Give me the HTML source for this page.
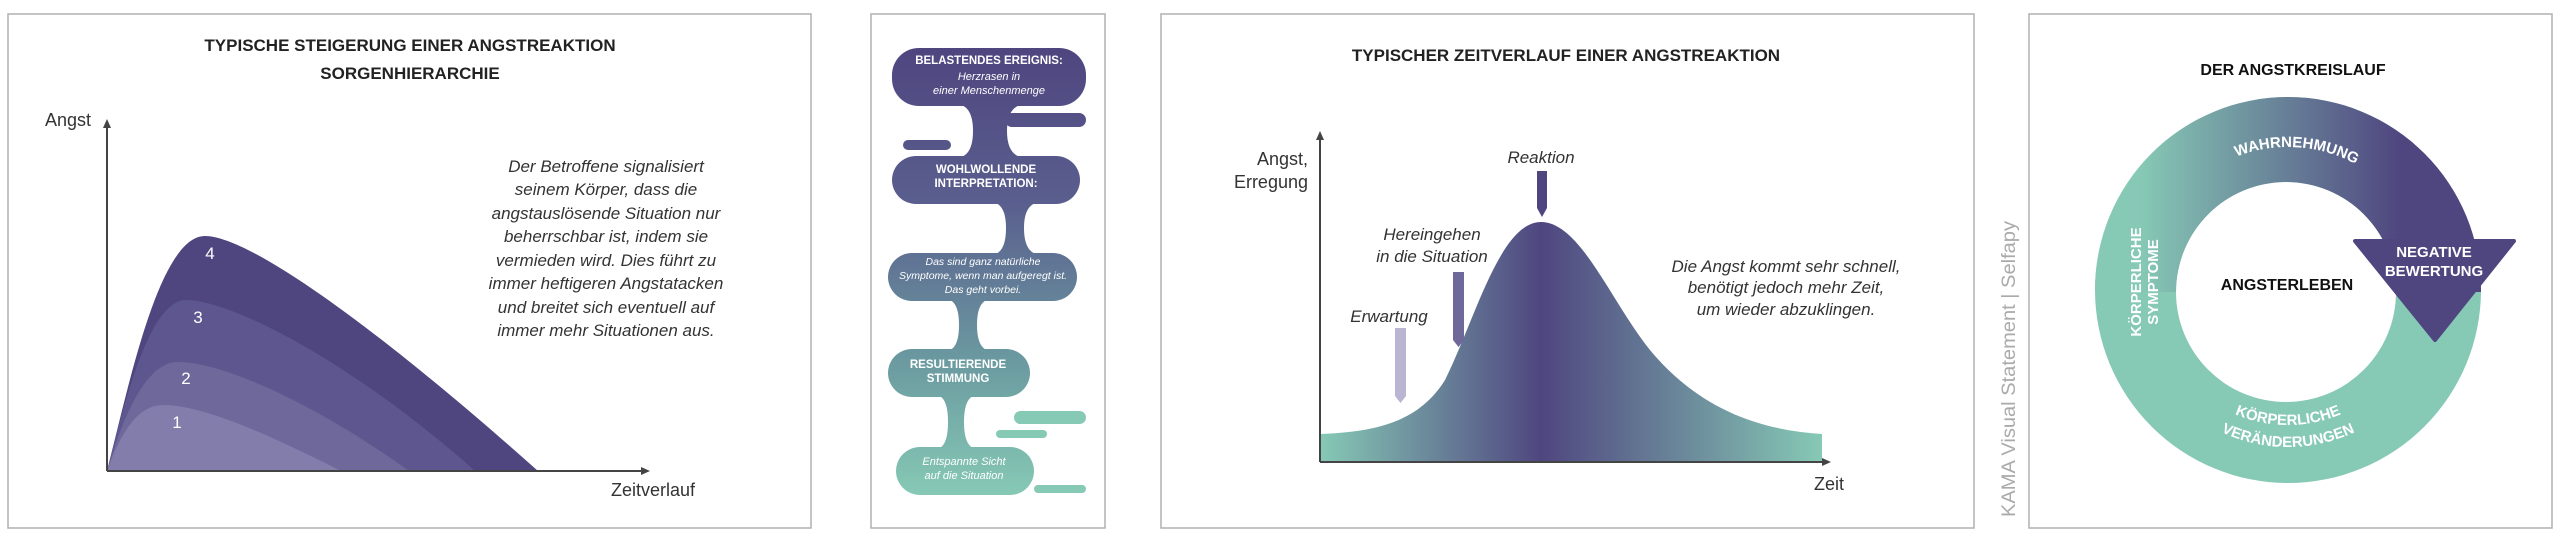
<!DOCTYPE html>
<html><head><meta charset="utf-8"><style>
html,body{margin:0;padding:0;background:#fff;}
svg{display:block;}
text{font-family:"Liberation Sans",sans-serif;}
</style></head><body>
<svg width="2560" height="538" viewBox="0 0 2560 538" xmlns="http://www.w3.org/2000/svg">
<defs>
<linearGradient id="g2" gradientUnits="userSpaceOnUse" x1="0" y1="50" x2="0" y2="495">
<stop offset="0" stop-color="#4f4680"/><stop offset="0.35" stop-color="#5a5f8e"/><stop offset="0.7" stop-color="#6b9aa0"/><stop offset="1" stop-color="#86c9b5"/></linearGradient>
<linearGradient id="g3" gradientUnits="userSpaceOnUse" x1="1320" y1="0" x2="1822" y2="0">
<stop offset="0" stop-color="#86c9b5"/><stop offset="0.44" stop-color="#4f4680"/><stop offset="1" stop-color="#86c9b5"/></linearGradient>
<linearGradient id="g4" gradientUnits="userSpaceOnUse" x1="2140" y1="0" x2="2400" y2="0">
<stop offset="0" stop-color="#86c9b5"/><stop offset="1" stop-color="#4f4680"/></linearGradient>
<clipPath id="topc"><rect x="2080" y="80" width="420" height="212"/></clipPath>
<path id="arcTop" d="M2145,290 A143,143 0 0 1 2431,290"/>
<path id="arcB1" d="M2153,290 A135,135 0 0 0 2423,290"/>
<path id="arcB2" d="M2131,290 A157,157 0 0 0 2445,290"/>
</defs>

<g fill="none" stroke="#b0b0b0" stroke-width="1.5">
<rect x="8" y="14" width="803" height="514"/>
<rect x="871" y="14" width="234" height="514"/>
<rect x="1161" y="14" width="813" height="514"/>
<rect x="2029" y="14" width="523" height="514"/>
</g>

<text x="410" y="51" font-size="17" font-weight="bold" text-anchor="middle" fill="#222">TYPISCHE STEIGERUNG EINER ANGSTREAKTION</text>
<text x="410" y="79" font-size="17" font-weight="bold" text-anchor="middle" fill="#222">SORGENHIERARCHIE</text>
<path d="M107,471 C130,380 160,236 205,236 C250,236 380,330 538,471 Z" fill="#4f4680"/>
<path d="M107,471 C125,400 150,300 186,300 C230,300 350,360 475,471 Z" fill="#5e578f"/>
<path d="M107,471 C122,420 145,362 178,362 C220,362 310,400 409,471 Z" fill="#6f689b"/>
<path d="M107,471 C118,440 135,405 163,405 C200,405 260,430 341,471 Z" fill="#837dab"/>
<g font-size="17" fill="#fff" text-anchor="middle">
<text x="210" y="259">4</text><text x="198" y="323">3</text><text x="186" y="384">2</text><text x="177" y="428">1</text></g>
<line x1="107" y1="471" x2="107" y2="126" stroke="#444" stroke-width="2"/>
<path d="M103,128 L107,119 L111,128 Z" fill="#444"/>
<line x1="107" y1="471" x2="643" y2="471" stroke="#444" stroke-width="2"/>
<path d="M641,467 L650,471 L641,475 Z" fill="#444"/>
<text x="45" y="126" font-size="18" fill="#333">Angst</text>
<text x="611" y="496" font-size="18" fill="#333">Zeitverlauf</text>
<g font-size="17" font-style="italic" fill="#333" text-anchor="middle">
<text x="606" y="172">Der Betroffene signalisiert</text>
<text x="606" y="195">seinem Körper, dass die</text>
<text x="606" y="219">angstauslösende Situation nur</text>
<text x="606" y="242">beherrschbar ist, indem sie</text>
<text x="606" y="266">vermieden wird. Dies führt zu</text>
<text x="606" y="289">immer heftigeren Angstatacken</text>
<text x="606" y="313">und breitet sich eventuell auf</text>
<text x="606" y="336">immer mehr Situationen aus.</text>
</g>

<g fill="url(#g2)">
<rect x="892" y="48" width="194" height="58" rx="27"/>
<rect x="1005" y="113" width="81" height="14" rx="7"/>
<rect x="903" y="140" width="48" height="10" rx="5"/>
<path d="M955,104 Q973,104 973,131 Q973,158 955,158 L1027,158 Q1007,158 1007,131 Q1007,104 1027,104 Z"/>
<rect x="892" y="156" width="188" height="48" rx="24"/>
<path d="M990,202 Q1006,202 1006,228 Q1006,255 990,255 L1042,255 Q1024,255 1024,228 Q1024,202 1042,202 Z"/>
<rect x="888" y="253" width="189" height="48" rx="24"/>
<path d="M945,299 Q959,299 959,325 Q959,351 945,351 L992,351 Q977,351 977,325 Q977,299 992,299 Z"/>
<rect x="888" y="349" width="142" height="48" rx="24"/>
<path d="M935,395 Q948,395 948,422 Q948,449 935,449 L978,449 Q964,449 964,422 Q964,395 978,395 Z"/>
<rect x="896" y="447" width="138" height="48" rx="24"/>
</g>
<g fill="#86c9b5">
<rect x="1014" y="411" width="72" height="13" rx="6.5"/>
<rect x="996" y="430" width="51" height="8" rx="4"/>
<rect x="1034" y="485" width="52" height="8" rx="4"/>
</g>
<g fill="#fff" text-anchor="middle">
<text x="989" y="64" font-size="11.5" font-weight="bold">BELASTENDES EREIGNIS:</text>
<text x="989" y="80" font-size="11" font-style="italic">Herzrasen in</text>
<text x="989" y="94" font-size="11" font-style="italic">einer Menschenmenge</text>
<text x="986" y="173" font-size="11.5" font-weight="bold">WOHLWOLLENDE</text>
<text x="986" y="187" font-size="11.5" font-weight="bold">INTERPRETATION:</text>
<text x="983" y="265" font-size="10.5" font-style="italic">Das sind ganz natürliche</text>
<text x="983" y="279" font-size="10.5" font-style="italic">Symptome, wenn man aufgeregt ist.</text>
<text x="983" y="293" font-size="10.5" font-style="italic">Das geht vorbei.</text>
<text x="958" y="368" font-size="11.5" font-weight="bold">RESULTIERENDE</text>
<text x="958" y="382" font-size="11.5" font-weight="bold">STIMMUNG</text>
<text x="964" y="465" font-size="11" font-style="italic">Entspannte Sicht</text>
<text x="964" y="479" font-size="11" font-style="italic">auf die Situation</text>
</g>

<text x="1566" y="61" font-size="17" font-weight="bold" text-anchor="middle" fill="#222">TYPISCHER ZEITVERLAUF EINER ANGSTREAKTION</text>
<path d="M1320,434 C1380,432 1420,420 1445,380 C1475,320 1500,222 1541,222 C1580,222 1610,300 1650,350 C1700,410 1760,430 1822,434 L1822,462 L1320,462 Z" fill="url(#g3)"/>
<line x1="1320" y1="462" x2="1320" y2="138" stroke="#444" stroke-width="2"/>
<path d="M1316,140 L1320,131 L1324,140 Z" fill="#444"/>
<line x1="1320" y1="462" x2="1824" y2="462" stroke="#444" stroke-width="2"/>
<path d="M1822,458 L1831,462 L1822,466 Z" fill="#444"/>
<text x="1308" y="165" font-size="18" fill="#333" text-anchor="end">Angst,</text>
<text x="1308" y="188" font-size="18" fill="#333" text-anchor="end">Erregung</text>
<text x="1829" y="490" font-size="18" fill="#333" text-anchor="middle">Zeit</text>
<g font-size="17" font-style="italic" fill="#333" text-anchor="middle">
<text x="1541" y="163">Reaktion</text>
<text x="1432" y="240">Hereingehen</text>
<text x="1432" y="262">in die Situation</text>
<text x="1389" y="322">Erwartung</text>
<text x="1786" y="272">Die Angst kommt sehr schnell,</text>
<text x="1786" y="293">benötigt jedoch mehr Zeit,</text>
<text x="1786" y="315">um wieder abzuklingen.</text>
</g>
<path d="M1537,171 L1547,171 L1547,208 L1542,217 L1537,208 Z" fill="#4f4680"/>
<path d="M1453,272 L1464,272 L1464,340 L1458.5,347 L1453,340 Z" fill="#6f689b"/>
<path d="M1395,328 L1406,328 L1406,396 L1400.5,403 L1395,396 Z" fill="#b9b5d3"/>

<text transform="translate(2015,517) rotate(-90)" font-size="19" fill="#aaa" textLength="296" lengthAdjust="spacingAndGlyphs">KAMA Visual Statement | Selfapy</text>

<text x="2293" y="75" font-size="16" font-weight="bold" text-anchor="middle" fill="#111">DER ANGSTKREISLAUF</text>
<path fill-rule="evenodd" fill="#86c9b5" d="M2095,290 A193,193 0 1 0 2481,290 A193,193 0 1 0 2095,290 Z M2176,292 A110,110 0 1 1 2396,292 A110,110 0 1 1 2176,292 Z"/>
<path clip-path="url(#topc)" fill-rule="evenodd" fill="url(#g4)" d="M2095,290 A193,193 0 1 0 2481,290 A193,193 0 1 0 2095,290 Z M2176,292 A110,110 0 1 1 2396,292 A110,110 0 1 1 2176,292 Z"/>
<path d="M2355,241 L2514,241 L2435,340 Z" fill="#4f4680" stroke="#4f4680" stroke-width="4" stroke-linejoin="round"/>
<text font-size="15" font-weight="bold" fill="#fff" text-anchor="middle"><textPath href="#arcTop" startOffset="52%">WAHRNEHMUNG</textPath></text>
<text font-size="15" font-weight="bold" fill="#fff" text-anchor="middle"><textPath href="#arcB1" startOffset="50%">KÖRPERLICHE</textPath></text>
<text font-size="15" font-weight="bold" fill="#fff" text-anchor="middle"><textPath href="#arcB2" startOffset="50%">VERÄNDERUNGEN</textPath></text>
<text transform="translate(2141,282) rotate(-90)" font-size="15" font-weight="bold" fill="#fff" text-anchor="middle">KÖRPERLICHE</text>
<text transform="translate(2158,282) rotate(-90)" font-size="15" font-weight="bold" fill="#fff" text-anchor="middle">SYMPTOME</text>
<text x="2287" y="290" font-size="16" font-weight="bold" text-anchor="middle" fill="#111">ANGSTERLEBEN</text>
<text x="2434" y="257" font-size="15" font-weight="bold" text-anchor="middle" fill="#fff">NEGATIVE</text>
<text x="2434" y="276" font-size="15" font-weight="bold" text-anchor="middle" fill="#fff">BEWERTUNG</text>
</svg>
</body></html>
